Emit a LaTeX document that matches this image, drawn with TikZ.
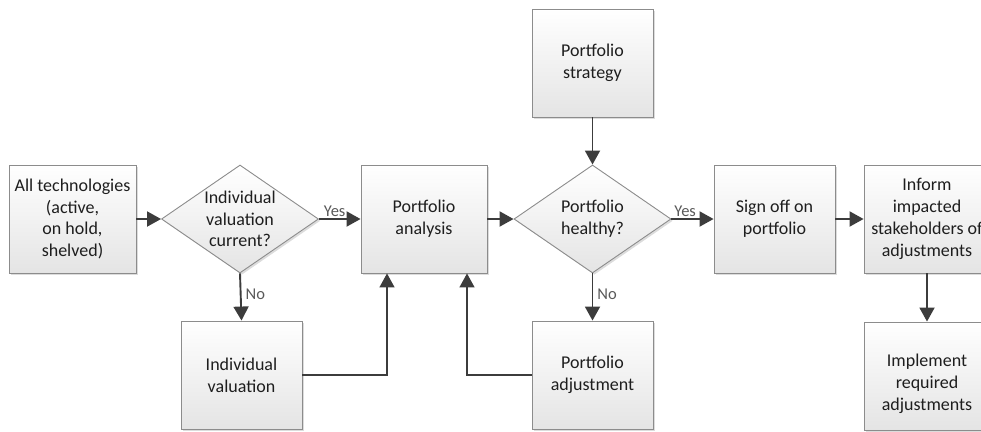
\documentclass[tikz,border=0pt]{standalone}
\usepackage{fontspec}
\setmainfont{Carlito}
\usetikzlibrary{shapes.geometric,arrows.meta,shadows}
\definecolor{boxline}{HTML}{8C8C8C}
\definecolor{flowline}{HTML}{3C3C3C}
\definecolor{boxtext}{HTML}{1E1E1E}
\definecolor{labeltext}{HTML}{595959}
\definecolor{boxbottom}{HTML}{E4E4E4}
\begin{document}
\begin{tikzpicture}[x=1pt,y=-1pt,
  every node/.style={font=\fontsize{18}{21.8}\selectfont, text=boxtext},
  shaded/.style={draw=boxline, line width=0.9pt, top color=white, bottom color=boxbottom,
    drop shadow={shadow xshift=1.8pt, shadow yshift=-1.8pt, opacity=0.3, fill=black!45}},
  stepbox/.style={shaded, rectangle, minimum width=121pt, minimum height=108pt,
    inner sep=2pt, align=center},
  widebox/.style={stepbox, minimum width=126pt},
  decision/.style={shaded, diamond, minimum width=157pt, minimum height=108pt, inner sep=0pt},
  flow/.style={draw=flowline, line width=1.9pt, -{Triangle[length=14pt,width=15pt]}},
  flowthin/.style={flow, line width=1.4pt},
  answer/.style={font=\fontsize{16.5}{20}\selectfont, text=labeltext, inner sep=1pt}
]
\useasboundingbox (0,0) rectangle (981,431);
\clip (0,0) rectangle (981,431);

% process steps
\node[widebox, minimum width=127pt] (all) at (72.5,219) {All technologies\\(active,\\on hold,\\shelved)};
\node[decision, label={[align=center]center:{Individual\\valuation\\current?}}] (cur) at (240,219) {};
\node[widebox] (ana) at (424,219) {Portfolio\\analysis};
\node[decision, label={[align=center]center:{Portfolio\\healthy?}}] (hea) at (592.5,219) {};
\node[stepbox] (str) at (592.5,63) {Portfolio\\strategy};
\node[stepbox] (sig) at (774.5,219) {Sign off on\\portfolio};
\node[widebox] (inf) at (927,219) {Inform\\impacted\\stakeholders of\\adjustments};
\node[widebox, label={[align=center, yshift=-8pt]center:{Implement\\required\\adjustments}}] (imp) at (927,376) {};
\node[stepbox] (val) at (241.5,375) {Individual\\valuation};
\node[stepbox] (adj) at (592.5,375) {Portfolio\\adjustment};

% main flow
\draw[flow] (all) -- (cur);
\draw[flow] (cur.east) -- node[answer, pos=0, anchor=south west, xshift=3pt] (yes1) {Yes} (ana.west);
\draw[flow] (ana) -- (hea.west);
\draw[flow] (str) -- (hea.north);
\draw[flow] (hea.east) -- node[answer, pos=0, anchor=south west, xshift=1pt] (yes2) {Yes} (sig.west);
\draw[flow] (sig) -- (inf);
\draw[flow] (inf) -- (imp);

% negative branches
\draw[flow] (cur.south) -- node[answer, pos=0.45, anchor=west, xshift=3pt] (no1) {No} (val.north);
\draw[flow] (hea.south) -- node[answer, pos=0.45, anchor=west, xshift=3pt] (no2) {No} (adj.north);

% feedback into the analysis
\draw[flowthin] (val.east) -| ([xshift=-37pt]ana.south);
\draw[flowthin] (adj.west) -| ([xshift=43pt]ana.south);
\end{tikzpicture}
\end{document}
